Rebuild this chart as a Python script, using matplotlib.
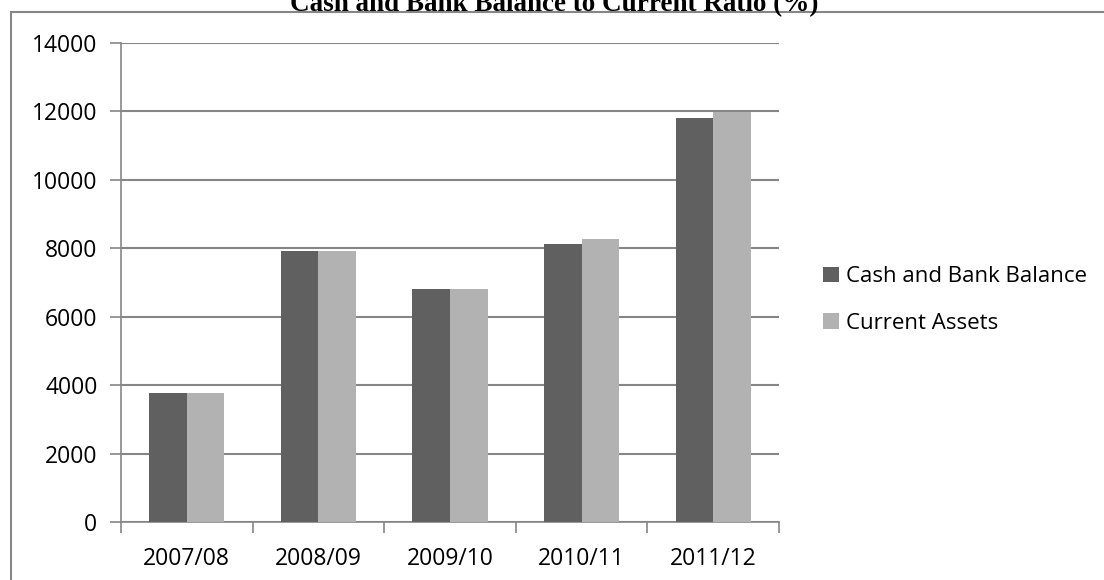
import matplotlib.pyplot as plt
import numpy as np
from matplotlib.patches import Rectangle

years = ['2007/08', '2008/09', '2009/10', '2010/11', '2011/12']
cash_bank = [3760, 7920, 6820, 8120, 11800]
current_assets = [3760, 7920, 6820, 8270, 11990]

dark = '#606060'
light = '#b2b2b2'
grid_col = '#868686'

fig = plt.figure(figsize=(11.04, 5.8), dpi=100)
ax = fig.add_axes([121/1104, 1 - 522/580, (779 - 121)/1104, (522 - 43)/580])

x = np.arange(len(years))
w = 0.285
ax.bar(x - w/2, cash_bank, w, color=dark, label='Cash and Bank Balance', zorder=3)
ax.bar(x + w/2, current_assets, w, color=light, label='Current Assets', zorder=3)

ax.set_xlim(-0.5, len(years) - 0.5)
ax.set_ylim(0, 14000)
ax.set_yticks(np.arange(0, 14001, 2000))
ax.yaxis.grid(True, color=grid_col, linewidth=1.5, zorder=0)
ax.set_axisbelow(True)

# category boundaries as major ticks, names as minor labels
ax.set_xticks(np.arange(-0.5, len(years), 1.0))
ax.set_xticklabels([])
ax.set_xticks(x, minor=True)
ax.set_xticklabels(years, minor=True)
ax.tick_params(axis='x', which='major', length=8, width=1.2, color=grid_col)
ax.tick_params(axis='x', which='minor', length=0, pad=18, labelsize=16.5)
ax.tick_params(axis='y', length=8, width=1.2, color=grid_col, labelsize=16.5, pad=9)
for lbl in ax.get_xticklabels(minor=True) + ax.get_yticklabels():
    lbl.set_fontfamily('Open Sans')

for s in ['top', 'right']:
    ax.spines[s].set_visible(False)
for s in ['left', 'bottom']:
    ax.spines[s].set_color(grid_col)
    ax.spines[s].set_linewidth(1.2)

leg = fig.legend(loc='center left', bbox_to_anchor=(803/1104, 1 - 300/580), frameon=False,
                 prop={'family': 'Open Sans', 'size': 16}, handlelength=0.7, handleheight=0.7,
                 handletextpad=0.35, labelspacing=1.15)

fig.patches.append(Rectangle((11/1104, -0.1), 1.2, 1 - 12/580 + 0.1, transform=fig.transFigure,
                             fill=False, edgecolor=grid_col, linewidth=1.5))

fig.text(0.502, 1 - 11/580, 'Cash and Bank Balance to Current Ratio (%)', ha='center', va='baseline',
         fontsize=19.5, fontweight='bold', family='Liberation Serif')

fig.savefig('out.png', dpi=100)
